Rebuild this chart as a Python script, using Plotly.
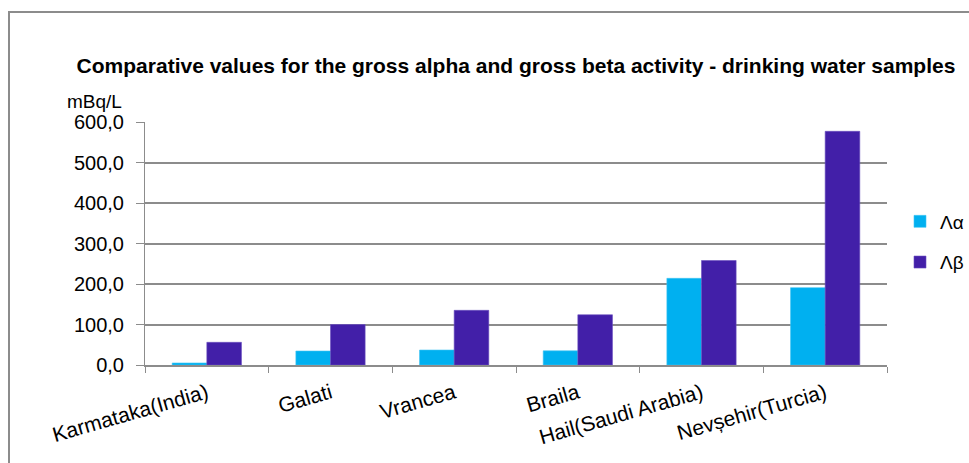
import plotly.graph_objects as go

categories = ["Karmataka(India)", "Galati", "Vrancea", "Braila", "Hail(Saudi Arabia)", "Nevșehir(Turcia)"]
alpha_vals = [5.0, 34.5, 37.0, 35.0, 214.0, 191.0]
beta_vals = [56.0, 100.0, 135.0, 124.0, 258.0, 577.0]
series_names = ["Λα", "Λβ"]
y_ticks = [0, 100, 200, 300, 400, 500, 600]

W, H = 969, 463
ML, MR, MT, MB = 145, 82, 122, 98

fig = go.Figure()
fig.add_trace(go.Bar(x=categories, y=alpha_vals, name=series_names[0], legendgroup="a",
                     marker=dict(color="#00B0F0", line=dict(color="#3FC4F3", width=0.6))))
fig.add_trace(go.Bar(x=categories, y=beta_vals, name=series_names[1], legendgroup="b",
                     marker=dict(color="#421FA8", line=dict(color="#6A4FC0", width=0.6))))

pw = W - ML - MR
ph = H - MT - MB

def px(x):
    return (x - ML) / pw

def py(y):
    return (H - MB - y) / ph

fig.update_layout(
    width=W, height=H,
    margin=dict(l=ML, r=MR, t=MT, b=MB, autoexpand=False),
    paper_bgcolor="white", plot_bgcolor="white",
    separators=", ",
    barmode="group", bargap=0.44, bargroupgap=0,
    font=dict(family="Liberation Sans, Arial, sans-serif", color="black"),
    title=dict(text="<b>Comparative values for the gross alpha and gross beta activity - drinking water samples</b>",
               xref="container", yref="container",
               x=516 / W, xanchor="center", y=1 - 66 / H, yanchor="middle",
               font=dict(size=21, color="black")),
    legend=dict(x=px(900), y=py(242), xanchor="left", yanchor="middle",
                font=dict(size=19), tracegroupgap=13, itemwidth=30,
                bgcolor="rgba(0,0,0,0)"),
    xaxis=dict(type="category", tickangle=-16, tickfont=dict(size=21),
               showline=True, linecolor="#8C8C8C", linewidth=2,
               ticks="outside", tickson="boundaries", ticklen=6, tickcolor="#8C8C8C", tickwidth=1,
               ticklabelstandoff=6, showgrid=False),
    yaxis=dict(range=[0, 600], tickvals=y_ticks, tickformat=".1f", tickfont=dict(size=20),
               showline=True, linecolor="#8C8C8C", linewidth=1,
               ticks="outside", ticklen=8, tickcolor="#8C8C8C", ticklabelstandoff=8,
               showgrid=True, gridcolor="#8C8C8C", gridwidth=2, zeroline=False),
    annotations=[dict(text="mBq/L", xref="paper", yref="paper", x=px(94), y=py(101),
                      xanchor="center", yanchor="middle", showarrow=False,
                      font=dict(size=19, color="black"))],
    shapes=[dict(type="rect", xref="paper", yref="paper",
                 x0=px(9), x1=px(W + 10), y0=py(H + 10), y1=py(12),
                 line=dict(color="#8C8C8C", width=2), fillcolor="rgba(0,0,0,0)", layer="below")],
)

fig.write_html("out.html")
